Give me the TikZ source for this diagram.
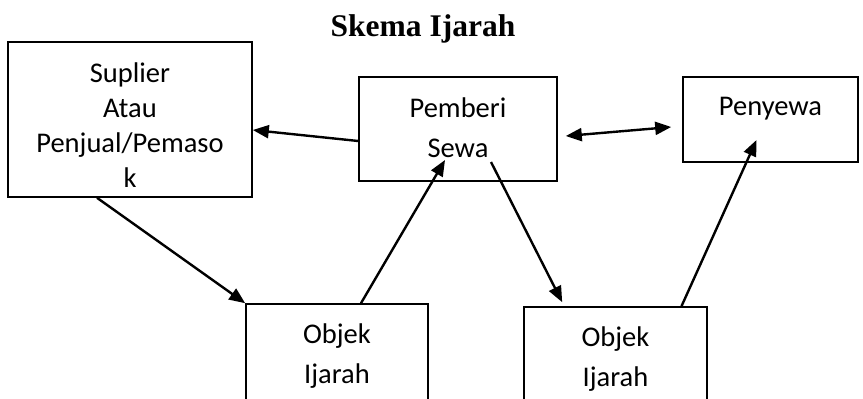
\documentclass[tikz,border=0pt]{standalone}
\usepackage{fontspec}
\setmainfont{Carlito}
\newfontfamily\judulfont{Liberation Serif}
\usetikzlibrary{positioning, arrows.meta, calc}
\tikzset{
    kotak/.style={
        draw=black, line width=1.6pt, fill=white,
        inner sep=0pt, align=center,
        font=\fontsize{28.5}{35}\selectfont
    },
    judul/.style={font=\judulfont\bfseries\fontsize{31.5}{36}\selectfont},
    panah/.style   ={-{Triangle[length=16pt, width=13pt]}, line width=2.4pt, draw=black},
    duapanah/.style={{Triangle[length=16pt, width=13pt]}-{Triangle[length=16pt, width=13pt]}, line width=2.4pt, draw=black}
}

\begin{document}
\begin{tikzpicture}[x=1pt, y=-1pt]
      \clip (0,0) rectangle (863,399);
      \node[judul, anchor=base] (T) at (423,36) {Skema Ijarah};
      \node[kotak, minimum width=244pt, minimum height=155pt, text height=145pt, text depth=10pt] (SUP) at (130,119.5) {Suplier\\Atau\\Penjual/Pemaso\\k};
      \node[kotak, minimum width=198pt, minimum height=104pt, text height=66pt, text depth=10pt] (PB) at (458,129) {Pemberi\\[5pt]Sewa};
      \node[kotak, minimum width=175pt, minimum height=85pt, text height=20pt, text depth=29pt] (PY) at (770.5,119.5) {Penyewa};
      \node[kotak, minimum width=182pt, minimum height=108pt, text height=70pt, text depth=20pt] (O1) at (337,358) {Objek\\[5pt]Ijarah};
      \node[kotak, minimum width=183pt, minimum height=108pt, text height=70pt, text depth=20pt] (O2) at (615.5,361) {Objek\\[5pt]Ijarah};
      \draw[panah] ($(PB.west)+(0,12)$) -- ($(SUP.east)+(0,10.5)$);
      \draw[duapanah] ($(PB.east)+(8,7)$) -- ($(PY.west)+(-11,7.5)$);
      \draw[panah] ($(SUP.south)+(-33,0)$) -- (O1.north west);
      \draw[panah] ($(O1.north)+(24,0)$) -- ($(PB.center)+(-13,31)$);
      \draw[panah] ($(PB.center)+(33,33)$) -- ($(O2.north west)+(39,-4)$);
      \draw[panah] ($(O2.north)+(66,0)$) -- ($(PY.center)+(-14,20.5)$);
    \end{tikzpicture}
\end{document}
